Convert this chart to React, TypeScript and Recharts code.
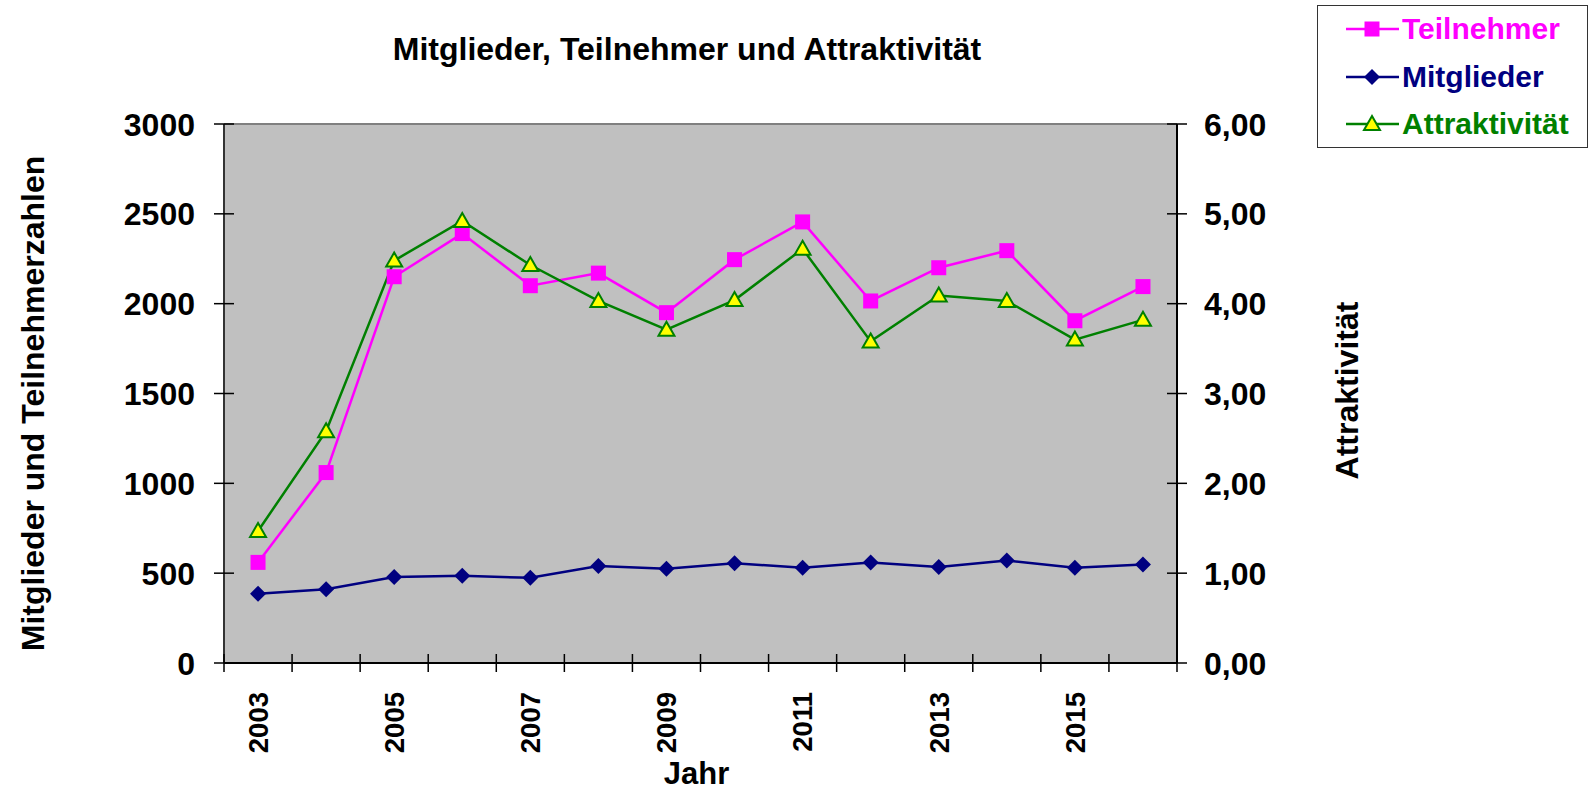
import { CartesianGrid, Legend, Line, LineChart, ReferenceLine, XAxis, YAxis } from "recharts";

const years = [2003, 2004, 2005, 2006, 2007, 2008, 2009, 2010, 2011, 2012, 2013, 2014, 2015, 2016];
const teilnehmer = [560, 1060, 2150, 2390, 2100, 2170, 1950, 2245, 2455, 2015, 2200, 2295, 1905, 2095];
const mitglieder = [385, 410, 478, 485, 474, 540, 525, 555, 530, 560, 535, 570, 530, 548];
const attraktivitaet = [1.47, 2.58, 4.48, 4.92, 4.43, 4.03, 3.71, 4.04, 4.61, 3.58, 4.09, 4.03, 3.6, 3.82];
const yearLabels = [2003, 2005, 2007, 2009, 2011, 2013, 2015];
const leftTicks = [0, 500, 1000, 1500, 2000, 2500, 3000];
const rightTicks = [0, 1, 2, 3, 4, 5, 6];

const FONT = '"Liberation Sans", Arial, sans-serif';
const PINK = "#FF00FF";
const NAVY = "#000080";
const GREEN = "#008000";
const YELLOW = "#FFFF00";

const data = years.map((year, i) => ({
  year,
  teilnehmer: teilnehmer[i],
  mitglieder: mitglieder[i],
  attraktivitaet: attraktivitaet[i],
}));

// category boundaries carry the tick marks, the labels sit on the year centres
const boundaries = [...years.map((y) => y - 0.5), years[years.length - 1] + 0.5];
const xTicks = [...boundaries, ...yearLabels].sort((a, b) => a - b);

function SquareDot({ cx, cy }: any) {
  if (cx == null || cy == null) return null;
  return <rect x={cx - 7.5} y={cy - 7.5} width={15} height={15} fill={PINK} />;
}

function DiamondDot({ cx, cy }: any) {
  if (cx == null || cy == null) return null;
  return <path d={`M${cx},${cy - 8} L${cx + 8},${cy} L${cx},${cy + 8} L${cx - 8},${cy} Z`} fill={NAVY} />;
}

function TriangleDot({ cx, cy }: any) {
  if (cx == null || cy == null) return null;
  return (
    <path
      d={`M${cx},${cy - 8} L${cx + 8},${cy + 6} L${cx - 8},${cy + 6} Z`}
      fill={YELLOW}
      stroke={GREEN}
      strokeWidth={2}
    />
  );
}

function LeftTick({ x, y, payload }: any) {
  const axisX = x + 29;
  return (
    <g>
      <line x1={axisX - 10} x2={axisX + 10} y1={y} y2={y} stroke="#000" strokeWidth={1.5} />
      <text x={x} y={y} dy="0.36em" textAnchor="end" fontFamily={FONT} fontWeight="bold" fontSize={32} fill="#000">
        {payload.value}
      </text>
    </g>
  );
}

function RightTick({ x, y, payload }: any) {
  const axisX = x - 27;
  return (
    <g>
      <line x1={axisX - 10} x2={axisX + 10} y1={y} y2={y} stroke="#000" strokeWidth={1.5} />
      <text x={x} y={y} dy="0.36em" textAnchor="start" fontFamily={FONT} fontWeight="bold" fontSize={32} fill="#000">
        {Number(payload.value).toFixed(2).replace(".", ",")}
      </text>
    </g>
  );
}

function BottomTick({ x, y, payload }: any) {
  const axisY = y - 29;
  if (!Number.isInteger(payload.value)) {
    return <line x1={x} x2={x} y1={axisY - 9} y2={axisY + 9} stroke="#000" strokeWidth={1.5} />;
  }
  return (
    <text
      x={x}
      y={y}
      dy="0.36em"
      textAnchor="end"
      transform={`rotate(-90, ${x}, ${y})`}
      fontFamily={FONT}
      fontWeight="bold"
      fontSize={27.5}
      fill="#000"
    >
      {payload.value}
    </text>
  );
}

const legendItems = [
  { name: "Teilnehmer", color: PINK, Dot: SquareDot },
  { name: "Mitglieder", color: NAVY, Dot: DiamondDot },
  { name: "Attraktivität", color: GREEN, Dot: TriangleDot },
];

function renderLegend() {
  return (
    <div
      style={{
        width: 271,
        height: 143,
        border: "1.5px solid #333",
        background: "#fff",
        boxSizing: "border-box",
        paddingTop: 1,
      }}
    >
      {legendItems.map(({ name, color, Dot }) => (
        <div key={name} style={{ display: "flex", alignItems: "center", height: 44, marginBottom: 3.5 }}>
          <svg width={84} height={30} style={{ flex: "none" }}>
            <line x1={28} x2={81} y1={15} y2={15} stroke={color} strokeWidth={2.5} />
            <Dot cx={54} cy={15} />
          </svg>
          <span style={{ color, fontFamily: FONT, fontWeight: "bold", fontSize: 30, lineHeight: "30px" }}>{name}</span>
        </div>
      ))}
    </div>
  );
}

export default function App() {
  return (
    <div style={{ position: "absolute", left: 0, top: 0, width: 1589, height: 790, background: "#fff" }}>
      <div
        style={{
          position: "absolute",
          left: 687,
          top: 49,
          transform: "translate(-50%, -50%)",
          whiteSpace: "nowrap",
          fontFamily: FONT,
          fontWeight: "bold",
          fontSize: 32,
          color: "#000",
        }}
      >
        Mitglieder, Teilnehmer und Attraktivität
      </div>
      <LineChart width={1589} height={790} data={data} margin={{ top: 124, right: 222, bottom: 0, left: 0 }}>
        <CartesianGrid yAxisId="left" fill="#C0C0C0" horizontal={false} vertical={false} />
        <XAxis
          dataKey="year"
          type="number"
          domain={[boundaries[0], boundaries[boundaries.length - 1]]}
          ticks={xTicks}
          interval={0}
          height={127}
          tickSize={9}
          tickMargin={20}
          tickLine={false}
          tick={<BottomTick />}
          axisLine={{ stroke: "#000", strokeWidth: 2 }}
          label={{
            content: ({ viewBox }: any) => (
              <text
                x={viewBox.x + viewBox.width / 2 - 4}
                y={viewBox.y + 110}
                dy="0.36em"
                textAnchor="middle"
                fontFamily={FONT}
                fontWeight="bold"
                fontSize={31}
                fill="#000"
              >
                Jahr
              </text>
            ),
          }}
        />
        <YAxis
          yAxisId="left"
          orientation="left"
          domain={[0, 3000]}
          ticks={leftTicks}
          interval={0}
          width={224}
          tickSize={10}
          tickMargin={19}
          tickLine={false}
          tick={<LeftTick />}
          axisLine={{ stroke: "#333", strokeWidth: 2 }}
          label={{
            content: ({ viewBox }: any) => {
              const cx = viewBox.x + 32;
              const cy = viewBox.y + viewBox.height / 2 + 10;
              return (
                <text
                  x={cx}
                  y={cy}
                  dy="0.36em"
                  textAnchor="middle"
                  transform={`rotate(-90, ${cx}, ${cy})`}
                  fontFamily={FONT}
                  fontWeight="bold"
                  fontSize={32}
                  fill="#000"
                >
                  Mitglieder und Teilnehmerzahlen
                </text>
              );
            },
          }}
        />
        <YAxis
          yAxisId="right"
          orientation="right"
          domain={[0, 6]}
          ticks={rightTicks}
          interval={0}
          width={190}
          tickSize={10}
          tickMargin={17}
          tickLine={false}
          tick={<RightTick />}
          axisLine={{ stroke: "#000", strokeWidth: 2 }}
          label={{
            content: ({ viewBox }: any) => {
              const cx = viewBox.x + 169;
              const cy = viewBox.y + viewBox.height / 2 - 3;
              return (
                <text
                  x={cx}
                  y={cy}
                  dy="0.36em"
                  textAnchor="middle"
                  transform={`rotate(-90, ${cx}, ${cy})`}
                  fontFamily={FONT}
                  fontWeight="bold"
                  fontSize={32}
                  fill="#000"
                >
                  Attraktivität
                </text>
              );
            },
          }}
        />
        <ReferenceLine yAxisId="left" y={3000} stroke="#808080" strokeWidth={2} />
        <Legend
          content={renderLegend}
          wrapperStyle={{ position: "absolute", left: 1317, top: 5, width: 0, height: 0 }}
        />
        <Line
          yAxisId="left"
          dataKey="teilnehmer"
          name="Teilnehmer"
          stroke={PINK}
          strokeWidth={2.5}
          dot={(p: any) => <SquareDot key={`t${p.index}`} {...p} />}
          activeDot={false}
          isAnimationActive={false}
        />
        <Line
          yAxisId="left"
          dataKey="mitglieder"
          name="Mitglieder"
          stroke={NAVY}
          strokeWidth={2.5}
          dot={(p: any) => <DiamondDot key={`m${p.index}`} {...p} />}
          activeDot={false}
          isAnimationActive={false}
        />
        <Line
          yAxisId="right"
          dataKey="attraktivitaet"
          name="Attraktivität"
          stroke={GREEN}
          strokeWidth={2.5}
          dot={(p: any) => <TriangleDot key={`a${p.index}`} {...p} />}
          activeDot={false}
          isAnimationActive={false}
        />
      </LineChart>
    </div>
  );
}
